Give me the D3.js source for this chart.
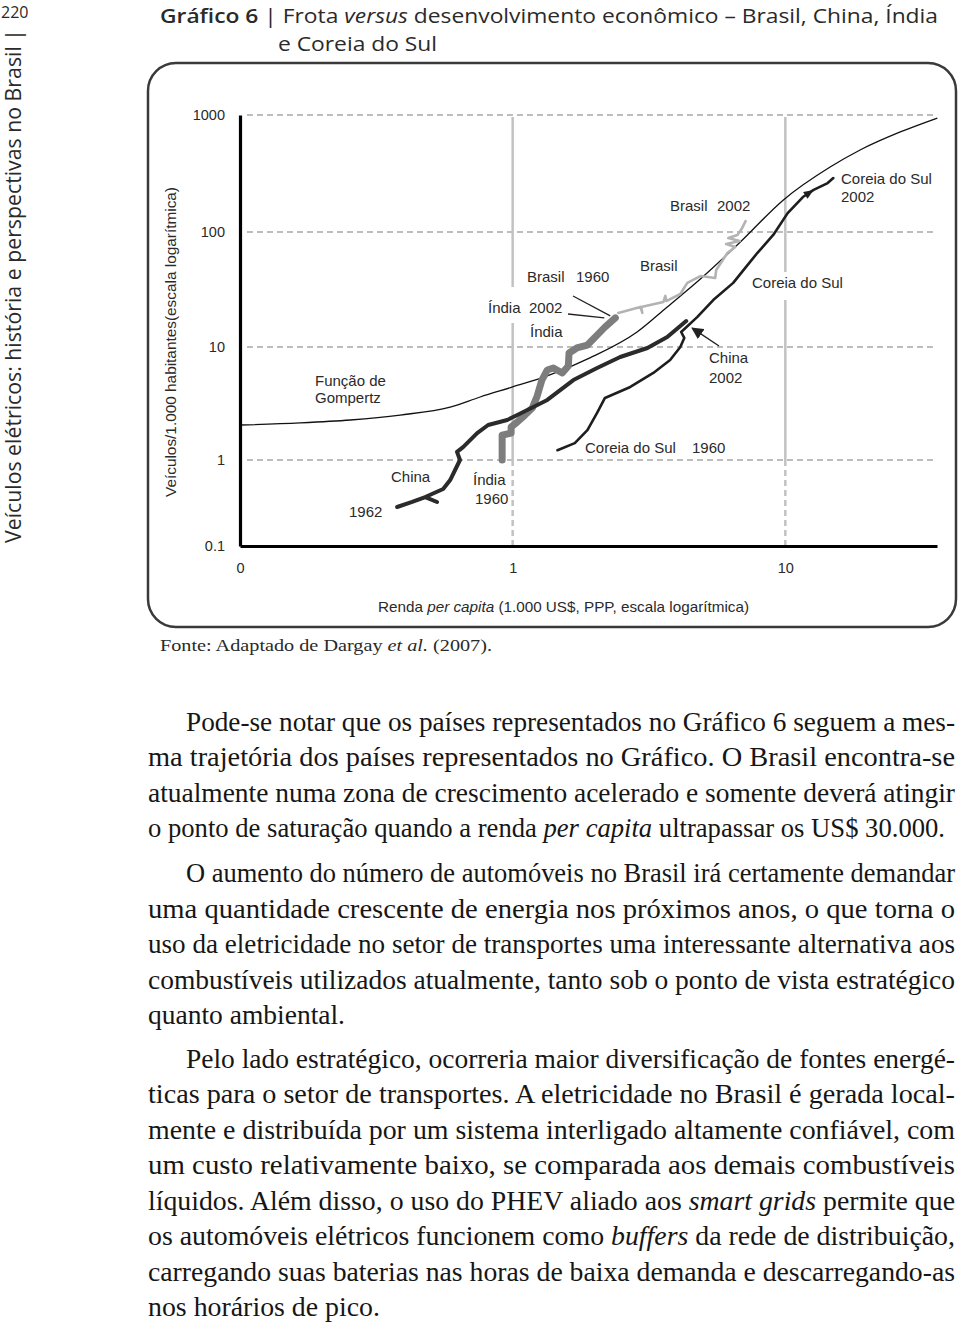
<!DOCTYPE html>
<html><head><meta charset="utf-8">
<script src="https://cdn.jsdelivr.net/npm/d3@7"></script>
<style>
html,body{margin:0;padding:0;background:#fff;}
svg{display:block;}
</style></head>
<body>
<svg id="page" width="960" height="1322"></svg>
<script>
// ---------------- DATA ----------------
const yTicks = [0.1, 1, 10, 100, 1000];
const yTickLabels = ["0.1", "1", "10", "100", "1000"];
const xTicks = [0.1, 1, 10];
const xTickLabels = ["0", "1", "10"];

// Função de Gompertz
const gompertzX = [0.1, 0.166, 0.254, 0.387, 0.59, 0.76, 1.0, 1.34, 1.92, 2.86, 3.69, 4.88, 6.84, 9.84, 14.6, 18.8, 26.4, 36.1];
const gompertzY = [2.04, 2.13, 2.26, 2.50, 2.94, 3.61, 4.43, 5.54, 8.0, 13.5, 22.3, 39.0, 81.9, 188, 359, 502, 716, 942];

// China 1962-2002
const chinaX = [0.377, 0.428, 0.478, 0.528, 0.478, 0.556, 0.590, 0.615, 0.641, 0.625, 0.658, 0.741, 0.813, 0.955, 1.04, 1.34, 1.67, 2.04, 2.48, 3.12, 3.69, 4.33];
const chinaY = [0.284, 0.325, 0.371, 0.325, 0.371, 0.460, 0.585, 0.765, 1.0, 1.18, 1.30, 1.73, 2.04, 2.26, 2.50, 3.40, 5.10, 6.52, 8.16, 9.80, 12.2, 16.8];

// Índia 1960-2002
const indiaX = [0.915, 0.915, 0.987, 0.987, 1.04, 1.11, 1.18, 1.23, 1.28, 1.34, 1.41, 1.52, 1.60, 1.61, 1.72, 1.88, 2.04, 2.18, 2.38];
const indiaY = [1.0, 1.66, 1.73, 1.96, 2.17, 2.50, 2.88, 3.68, 5.10, 6.26, 6.52, 5.89, 6.79, 8.85, 9.80, 10.4, 12.7, 14.9, 17.9];

// Brasil 1960-2002
const brasilX = [2.44, 2.94, 2.99, 2.96, 3.57, 3.63, 3.66, 4.12, 4.37, 4.88, 5.53, 5.58, 6.13, 6.55, 6.07, 6.80, 6.18, 6.67, 6.91, 7.15];
const brasilY = [19.8, 22.3, 19.8, 22.3, 24.6, 27.8, 25.1, 28.9, 36.1, 41.4, 39.8, 46.8, 65.6, 74.1, 78.6, 83.5, 88.7, 94.2, 106, 124];

// Coreia do Sul 1960-2002
const coreiaX = [1.46, 1.69, 1.88, 2.04, 2.18, 2.70, 3.28, 3.78, 4.12, 4.26, 4.15, 4.75, 5.44, 6.44, 7.13, 7.89, 9.03, 10.2, 11.6, 12.7, 14.3, 15.0];
const coreiaY = [1.22, 1.41, 1.84, 2.61, 3.54, 4.43, 5.89, 7.67, 10.0, 12.0, 13.5, 18.2, 25.6, 36.1, 48.7, 65.6, 94.2, 145, 199, 229, 262, 289];

// ---------------- LAYOUT ----------------
const svg = d3.select("#page");
const x = d3.scaleLog().domain([0.1, 36]).range([240, 937]);
const y = d3.scaleLog().domain(yTicks).range([546, 460, 347, 232, 115]);
const xMax = 36;
const sans = "'Liberation Sans', Arial, sans-serif";
const serif = "'Liberation Serif', 'Times New Roman', serif";
const head = "'Open Sans', 'Noto Sans', sans-serif";
const ink = "#2a2a2a";

const zip = (xs, ys) => xs.map((v, i) => [v, ys[i]]);

// ---- page header ----
svg.append("text").attr("x", 1).attr("y", 18).attr("font-family", head).attr("font-size", 16)
  .attr("fill", ink).text("220");
svg.append("text").attr("transform", "translate(21,543) rotate(-90)")
  .attr("font-family", head).attr("font-size", 21).attr("fill", ink)
  .attr("textLength", 514).attr("lengthAdjust", "spacingAndGlyphs")
  .text("Veículos elétricos: história e perspectivas no Brasil |");

const t1 = svg.append("text").attr("x", 160).attr("y", 23).attr("font-family", head)
  .attr("font-size", 20).attr("fill", ink);
t1.append("tspan").attr("font-weight", 600).text("Gráfico 6");
t1.append("tspan").text(" | Frota ");
t1.append("tspan").attr("font-style", "italic").text("versus");
t1.append("tspan").text(" desenvolvimento econômico – Brasil, China, Índia");
const t1n = t1.node().getComputedTextLength();
const tRatio = 778 / t1n;
t1.attr("textLength", 778).attr("lengthAdjust", "spacingAndGlyphs");
const t2 = svg.append("text").attr("x", 278).attr("y", 51).attr("font-family", head)
  .attr("font-size", 20).attr("fill", ink).text("e Coreia do Sul");
t2.attr("textLength", t2.node().getComputedTextLength() * tRatio).attr("lengthAdjust", "spacingAndGlyphs");

// ---- chart frame ----
svg.append("rect").attr("x", 148).attr("y", 63).attr("width", 808).attr("height", 564)
  .attr("rx", 28).attr("fill", "none").attr("stroke", "#3a3a3a").attr("stroke-width", 2.5);

const g = svg.append("g");

// horizontal dashed grid
g.selectAll("line.hg").data(yTicks.slice(1)).join("line").attr("class", "hg")
  .attr("x1", x(0.1) + 7).attr("x2", x(xMax)).attr("y1", d => y(d)).attr("y2", d => y(d))
  .attr("stroke", "#bdbdbd").attr("stroke-width", 2.2).attr("stroke-dasharray", "6,4");

// vertical grid: solid above 1, dashed below
const vTicks = xTicks.slice(1);
g.selectAll("line.vs").data(vTicks).join("line").attr("class", "vs")
  .attr("x1", d => x(d)).attr("x2", d => x(d)).attr("y1", y(1000) + 2).attr("y2", y(1))
  .attr("stroke", "#c2c2c2").attr("stroke-width", 2.5);
g.selectAll("line.vd").data(vTicks).join("line").attr("class", "vd")
  .attr("x1", d => x(d)).attr("x2", d => x(d)).attr("y1", y(1)).attr("y2", y(0.1))
  .attr("stroke", "#c2c2c2").attr("stroke-width", 2.5).attr("stroke-dasharray", "6,4");

// white masks behind labels crossing grid lines
const masks = [[486, 287, 80, 36], [750, 272, 96, 28]];
g.selectAll("rect.mask").data(masks).join("rect").attr("class", "mask")
  .attr("x", d => d[0]).attr("y", d => d[1]).attr("width", d => d[2]).attr("height", d => d[3]).attr("fill", "#fff");

// ---- series ----
const lineLin = d3.line().x(d => x(d[0])).y(d => y(d[1]));
const lineSmooth = d3.line().x(d => x(d[0])).y(d => y(d[1])).curve(d3.curveMonotoneX);

g.append("path").attr("d", lineSmooth(zip(gompertzX, gompertzY)))
  .attr("fill", "none").attr("stroke", "#111").attr("stroke-width", 1.3);

g.append("path").attr("d", lineLin(zip(indiaX, indiaY)))
  .attr("fill", "none").attr("stroke", "#7d7d7d").attr("stroke-width", 7)
  .attr("stroke-linejoin", "round").attr("stroke-linecap", "round");

g.append("path").attr("d", lineLin(zip(brasilX, brasilY)))
  .attr("fill", "none").attr("stroke", "#b3b3b3").attr("stroke-width", 2.6)
  .attr("stroke-linejoin", "round").attr("stroke-linecap", "round");

g.append("path").attr("d", lineLin(zip(coreiaX, coreiaY)))
  .attr("fill", "none").attr("stroke", "#1e1e1e").attr("stroke-width", 2.6)
  .attr("stroke-linejoin", "round").attr("stroke-linecap", "round");

g.append("path").attr("d", lineLin(zip(chinaX, chinaY)))
  .attr("fill", "none").attr("stroke", "#2b2b2b").attr("stroke-width", 4)
  .attr("stroke-linejoin", "round").attr("stroke-linecap", "round");

// arrowhead on Coreia line
{
  const i = 18;
  const p0 = [x(coreiaX[i]), y(coreiaY[i])], p1 = [x(coreiaX[i + 1]), y(coreiaY[i + 1])];
  const ang = Math.atan2(p1[1] - p0[1], p1[0] - p0[0]) * 180 / Math.PI;
  g.append("path").attr("d", "M0,0L-10,-4L-10,4Z").attr("fill", "#1e1e1e")
    .attr("transform", `translate(${p1[0]},${p1[1]}) rotate(${ang})`);
}

// ---- axes ----
const yAxis = d3.axisLeft(y).tickValues(yTicks).tickFormat((d, i) => yTickLabels[i])
  .tickSize(0).tickSizeOuter(0).tickPadding(15);
const ya = svg.append("g").attr("transform", `translate(${x(0.1)},0)`).call(yAxis);
ya.select(".domain").attr("stroke", "#000").attr("stroke-width", 3.2);
ya.selectAll("text").attr("font-family", sans).attr("font-size", 14.5).attr("fill", ink);

const xAxis = d3.axisBottom(x).tickValues(xTicks).tickFormat((d, i) => xTickLabels[i])
  .tickSize(0).tickSizeOuter(0).tickPadding(17);
const xa = svg.append("g").attr("transform", `translate(0,${y(0.1)})`).call(xAxis);
xa.select(".domain").attr("stroke", "#000").attr("stroke-width", 3.2);
xa.selectAll("text").attr("font-family", sans).attr("font-size", 14.5).attr("fill", ink);

// axis titles
svg.append("text").attr("transform", "translate(176,342) rotate(-90)").attr("text-anchor", "middle")
  .attr("font-family", sans).attr("font-size", 14.5).attr("fill", ink)
  .attr("textLength", 310).attr("lengthAdjust", "spacingAndGlyphs")
  .text("Veículos/1.000 habitantes(escala logarítmica)");
const xt = svg.append("text").attr("x", 378).attr("y", 612).attr("font-family", sans)
  .attr("font-size", 15).attr("fill", ink).attr("textLength", 371).attr("lengthAdjust", "spacingAndGlyphs");
xt.append("tspan").text("Renda ");
xt.append("tspan").attr("font-style", "italic").text("per capita");
xt.append("tspan").text(" (1.000 US$, PPP, escala logarítmica)");

// ---- annotations ----
const labels = [
  ["Função de", 315, 381], ["Gompertz", 315, 398],
  ["China", 391, 477], ["1962", 349, 512],
  ["Índia", 473, 480], ["1960", 475, 499],
  ["Coreia do Sul", 585, 448], ["1960", 692, 448],
  ["Índia", 488, 308], ["2002", 529, 308],
  ["Índia", 530, 332],
  ["Brasil", 527, 277], ["1960", 576, 277],
  ["Brasil", 640, 266],
  ["Brasil", 670, 206], ["2002", 717, 206],
  ["Coreia do Sul", 752, 283],
  ["China", 709, 358], ["2002", 709, 378],
  ["Coreia do Sul", 841, 179], ["2002", 841, 197]
];
svg.selectAll("text.lab").data(labels).join("text").attr("class", "lab")
  .attr("x", d => d[1]).attr("y", d => d[2]).attr("dy", "0.36em")
  .attr("font-family", sans).attr("font-size", 15).attr("fill", ink).text(d => d[0]);

// leader lines to series ends
const bStart = [x(brasilX[0]), y(brasilY[0])];
const iEnd = [x(indiaX[indiaX.length - 1]), y(indiaY[indiaY.length - 1])];
const cEnd = [x(chinaX[chinaX.length - 1]), y(chinaY[chinaY.length - 1])];
svg.append("line").attr("x1", 573).attr("y1", 296).attr("x2", bStart[0] - 8).attr("y2", bStart[1] + 3)
  .attr("stroke", "#222").attr("stroke-width", 1.3);
svg.append("line").attr("x1", 568).attr("y1", 314).attr("x2", iEnd[0] - 11).attr("y2", iEnd[1])
  .attr("stroke", "#222").attr("stroke-width", 1.3);

// arrow China 2002
svg.append("defs").append("marker").attr("id", "ah").attr("viewBox", "0 0 10 10")
  .attr("refX", 9).attr("refY", 5).attr("markerWidth", 12).attr("markerHeight", 12)
  .attr("markerUnits", "userSpaceOnUse").attr("orient", "auto")
  .append("path").attr("d", "M0,0L10,5L0,10Z").attr("fill", "#222");
svg.append("line").attr("x1", 719).attr("y1", 346).attr("x2", cEnd[0] + 6).attr("y2", cEnd[1] + 7)
  .attr("stroke", "#222").attr("stroke-width", 1.4).attr("marker-end", "url(#ah)");

// ---- source ----
const src = svg.append("text").attr("x", 160).attr("y", 651).attr("font-family", serif)
  .attr("font-size", 17).attr("fill", ink).attr("textLength", 332).attr("lengthAdjust", "spacingAndGlyphs");
src.append("tspan").text("Fonte: Adaptado de Dargay ");
src.append("tspan").attr("font-style", "italic").text("et al.");
src.append("tspan").text(" (2007).");

// ---- body text ----
const bodyLines = [
  [[["Pode-se notar que os países representados no Gráfico 6 seguem a mes-"]], 186, 722, 769],
  [[["ma trajetória dos países representados no Gráfico. O Brasil encontra-se"]], 148, 757, 807],
  [[["atualmente numa zona de crescimento acelerado e somente deverá atingir"]], 148, 793, 807],
  [[["o ponto de saturação quando a renda "], ["per capita", 1], [" ultrapassar os US$ 30.000."]], 148, 828, 797],
  [[["O aumento do número de automóveis no Brasil irá certamente demandar"]], 186, 873, 769],
  [[["uma quantidade crescente de energia nos próximos anos, o que torna o"]], 148, 909, 807],
  [[["uso da eletricidade no setor de transportes uma interessante alternativa aos"]], 148, 944, 807],
  [[["combustíveis utilizados atualmente, tanto sob o ponto de vista estratégico"]], 148, 980, 807],
  [[["quanto ambiental."]], 148, 1015, 197],
  [[["Pelo lado estratégico, ocorreria maior diversificação de fontes energé-"]], 186, 1059, 769],
  [[["ticas para o setor de transportes. A eletricidade no Brasil é gerada local-"]], 148, 1094, 807],
  [[["mente e distribuída por um sistema interligado altamente confiável, com"]], 148, 1130, 807],
  [[["um custo relativamente baixo, se comparada aos demais combustíveis"]], 148, 1165, 807],
  [[["líquidos. Além disso, o uso do PHEV aliado aos "], ["smart grids", 1], [" permite que"]], 148, 1201, 807],
  [[["os automóveis elétricos funcionem como "], ["buffers", 1], [" da rede de distribuição,"]], 148, 1236, 807],
  [[["carregando suas baterias nas horas de baixa demanda e descarregando-as"]], 148, 1272, 807],
  [[["nos horários de pico."]], 148, 1307, 232]
];
bodyLines.forEach(([segs, lx, ly, w]) => {
  const t = svg.append("text").attr("x", lx).attr("y", ly + 9).attr("font-family", serif)
    .attr("font-size", 27).attr("fill", "#161616");
  segs.forEach(s => t.append("tspan").attr("font-style", s[1] ? "italic" : null).text(s[0]));
  const nat = t.node().getComputedTextLength();
  if (lx + nat > 956) t.attr("font-size", 27 * (956 - lx) / nat);
  t.attr("textLength", w).attr("lengthAdjust", "spacingAndGlyphs");
});
</script>
</body></html>
